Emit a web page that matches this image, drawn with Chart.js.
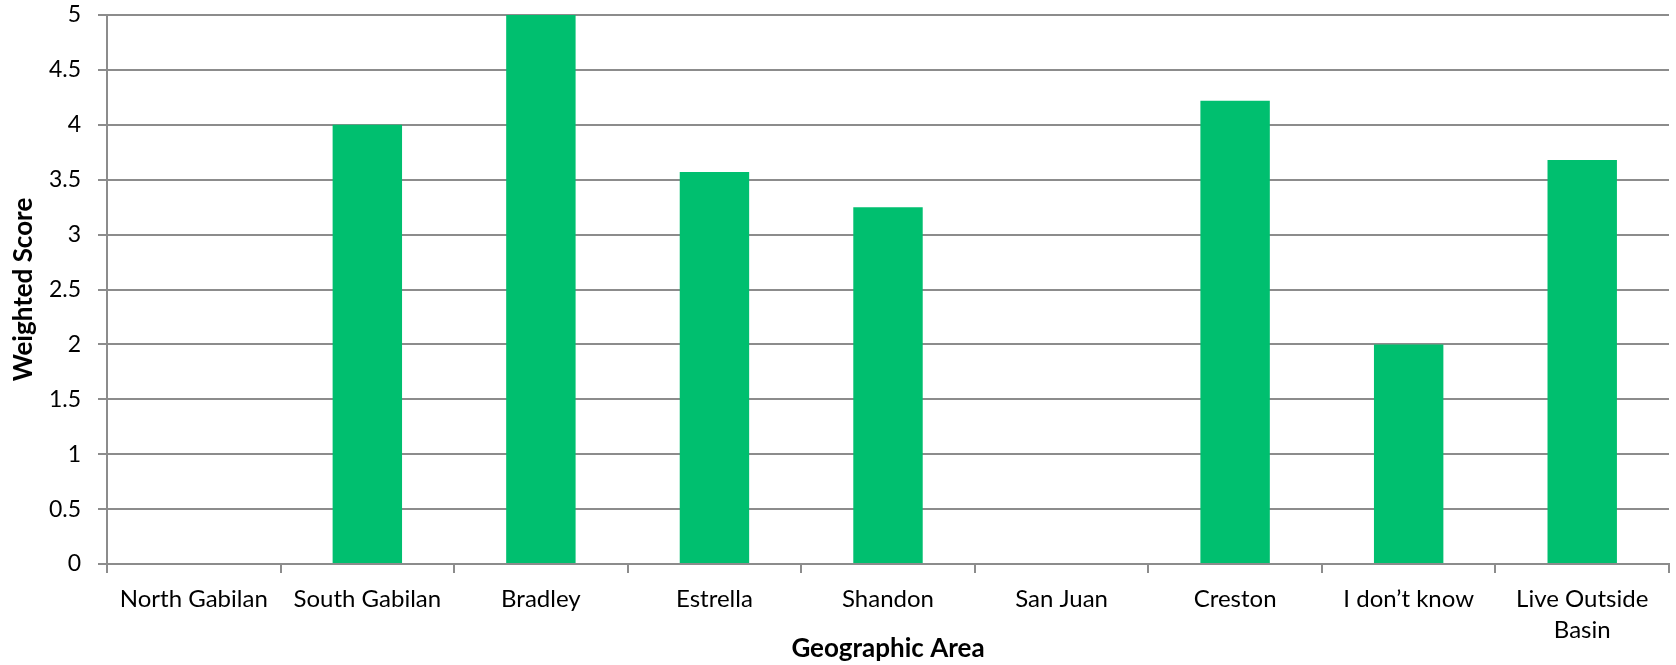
<!DOCTYPE html>
<html>
<head>
<meta charset="utf-8">
<script src="https://cdn.jsdelivr.net/npm/chart.js@4"></script>
<style>
  html, body { margin: 0; padding: 0; background: #fff; }
  #wrap { width: 1676px; height: 665px; }
</style>
</head>
<body>
<div id="wrap"><canvas id="chartArea"></canvas></div>
<script>
const areas = [
  "North Gabilan", "South Gabilan", "Bradley", "Estrella", "Shandon",
  "San Juan", "Creston", "I don\u2019t know", ["Live Outside", "Basin"]
];
const scores = [null, 4, 5, 3.57, 3.25, null, 4.22, 2, 3.68];
const yTicks = [0, 0.5, 1, 1.5, 2, 2.5, 3, 3.5, 4, 4.5, 5];

const gridGray = "#8c8c8c";
const fontFamily = "Lato, 'Open Sans', sans-serif";

const scoreChart = new Chart(document.getElementById("chartArea"), {
  type: "bar",
  data: {
    labels: areas,
    datasets: [
      {
        label: "Weighted Score",
        data: scores,
        backgroundColor: "#00bf6f",
        categoryPercentage: 1,
        barPercentage: 0.4,
      },
    ],
  },
  options: {
    responsive: true,
    maintainAspectRatio: false,
    animation: false,
    layout: {
      padding: { top: 0, right: 7, left: 0, bottom: 0 },
    },
    plugins: {
      legend: { display: false },
      tooltip: { enabled: false },
    },
    scales: {
      x: {
        grid: {
          drawOnChartArea: false,
          color: gridGray,
          lineWidth: 2,
          tickLength: 9,
        },
        border: { color: gridGray, width: 2 },
        ticks: {
          color: "#000",
          padding: 10,
          maxRotation: 0,
          autoSkip: false,
          font: { family: fontFamily, size: 24, lineHeight: 1.32 },
        },
        title: {
          display: true,
          text: "Geographic Area",
          color: "#000",
          padding: { top: 0, bottom: 3 },
          font: { family: fontFamily, size: 26, weight: "bold", lineHeight: 1 },
        },
        afterFit: (scale) => {
          scale.height = 101;
        },
      },
      y: {
        min: 0,
        max: 5,
        afterBuildTicks: (scale) => {
          scale.ticks = yTicks.map((v) => ({ value: v }));
        },
        grid: {
          color: gridGray,
          lineWidth: 2,
          tickLength: 9,
        },
        border: { color: gridGray, width: 2 },
        ticks: {
          color: "#000",
          padding: 17,
          callback: (v) => String(v),
          font: { family: fontFamily, size: 23 },
        },
        title: {
          display: true,
          text: "Weighted Score",
          color: "#000",
          padding: { top: 11, bottom: 0 },
          font: { family: fontFamily, size: 26, weight: "bold", lineHeight: 1 },
        },
        afterFit: (scale) => {
          scale.width = 107;
          // keep the plot top close to the canvas edge
          scale.paddingTop = 15;
          scale.paddingBottom = 0;
        },
      },
    },
  },
});
</script>
</body>
</html>
